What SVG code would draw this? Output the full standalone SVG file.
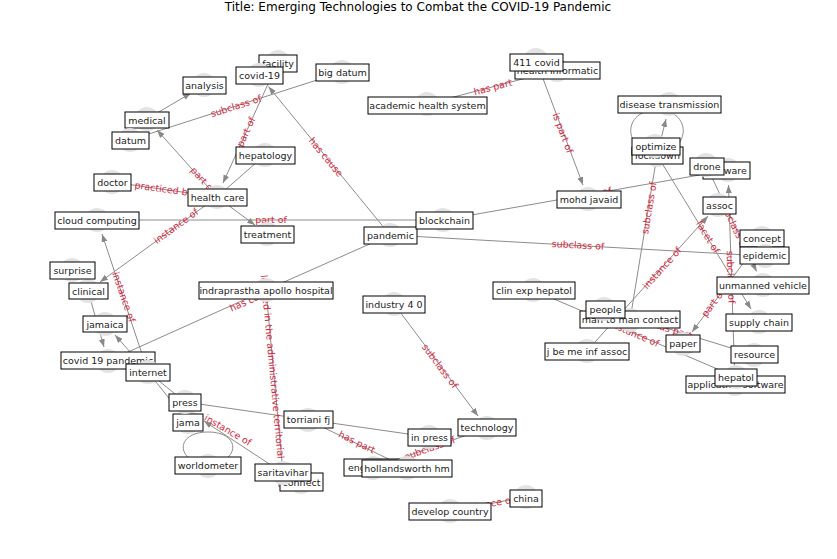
<svg xmlns="http://www.w3.org/2000/svg" width="837" height="559" viewBox="0 0 837 559">
<defs>
<marker id="arr" markerUnits="userSpaceOnUse" markerWidth="9" markerHeight="7" refX="8" refY="3" orient="auto">
<path d="M0,0 L8,3 L0,6 z" fill="#888"/>
</marker>
<style>
.e{stroke:#8c8c8c;stroke-width:1;fill:none}
.a{marker-end:url(#arr)}
.l{font-family:"DejaVu Sans",sans-serif;font-size:9.5px;fill:#d7263d;text-anchor:middle}
.c{fill:#e3e3e3}
.b{fill:#fff;stroke:#000;stroke-width:1}
.t{font-family:"DejaVu Sans",sans-serif;font-size:9.5px;fill:#222;text-anchor:middle}
.title{font-family:"DejaVu Sans",sans-serif;font-size:12px;fill:#000;text-anchor:middle}
</style>
</defs>
<rect width="837" height="559" fill="#fff"/>
<text class="title" x="418" y="11">Title: Emerging Technologies to Combat the COVID-19 Pandemic</text>
<g id="connectors">
<line class="e" x1="130" y1="140" x2="342" y2="72"/>
<line class="e a" x1="147" y1="119" x2="191" y2="93"/>
<line class="e a" x1="217" y1="197" x2="157" y2="130"/>
<line class="e a" x1="278" y1="62" x2="223" y2="183"/>
<line class="e" x1="265" y1="155" x2="217" y2="197"/>
<line class="e" x1="112" y1="182" x2="217" y2="197"/>
<line class="e a" x1="217" y1="197" x2="100" y2="282"/>
<line class="e a" x1="217" y1="197" x2="255" y2="225"/>
<line class="e" x1="97" y1="220" x2="443" y2="220"/>
<line class="e a" x1="148" y1="372" x2="102" y2="234"/>
<line class="e a" x1="88" y1="291" x2="104" y2="347"/>
<line class="e a" x1="148" y1="372" x2="115" y2="335"/>
<line class="e" x1="108" y1="361" x2="266" y2="290"/>
<line class="e" x1="266" y1="290" x2="283" y2="473"/>
<line class="e a" x1="390" y1="235" x2="268.5" y2="86.6"/>
<line class="e" x1="390" y1="235" x2="266" y2="290"/>
<line class="e" x1="390" y1="235" x2="765" y2="256"/>
<line class="e" x1="443" y1="220" x2="728" y2="170"/>
<line class="e" x1="427" y1="104" x2="557" y2="70"/>
<line class="e a" x1="536" y1="60" x2="583" y2="185"/>
<line class="e a" x1="657" y1="155" x2="666" y2="119"/>
<path class="e" d="M657,155 C622,150 622,110 657,110 C692,110 692,150 657,155"/>
<line class="e" x1="630" y1="320" x2="657" y2="155"/>
<line class="e a" x1="657" y1="155" x2="751" y2="309"/>
<line class="e a" x1="587" y1="351" x2="708" y2="216"/>
<line class="e a" x1="706" y1="165" x2="756.6" y2="271.4"/>
<line class="e a" x1="735" y1="384" x2="728.5" y2="185"/>
<line class="e a" x1="762" y1="238" x2="692" y2="332"/>
<line class="e" x1="533" y1="290" x2="736" y2="377"/>
<line class="e" x1="604" y1="309" x2="754" y2="355"/>
<line class="e" x1="148" y1="372" x2="185" y2="402"/>
<line class="e" x1="148" y1="372" x2="188" y2="422"/>
<line class="e" x1="185" y1="402" x2="429" y2="437"/>
<line class="e a" x1="283" y1="473" x2="204" y2="421"/>
<path class="e" d="M208,466 C175,461 175,432 208,432 C241,432 241,461 208,466"/>
<line class="e" x1="308" y1="420" x2="407" y2="468"/>
<line class="e" x1="373" y1="468" x2="487" y2="428"/>
<line class="e a" x1="394" y1="304" x2="478" y2="416"/>
<line class="e" x1="526" y1="497" x2="450" y2="511"/>
<g>
<text class="l" transform="translate(236,106) rotate(-17.8)" dy="3.4">subclass of</text>
<text class="l" transform="translate(203,180) rotate(48)" dy="3.4">part of</text>
<text class="l" transform="translate(246,132) rotate(-65.7)" dy="3.4">part of</text>
<text class="l" transform="translate(164,189) rotate(8)" dy="3.4">practiced by</text>
<text class="l" transform="translate(176,226) rotate(-36)" dy="3.4">instance of</text>
<text class="l" transform="translate(271,220)" dy="3.4">part of</text>
<text class="l" transform="translate(124,297) rotate(71)" dy="3.4">instance of</text>
<text class="l" transform="translate(252,299) rotate(-24)" dy="3.4">has cause</text>
<text class="l" transform="translate(274,382) rotate(84.7)" dy="3.4">located in the administrative territorial entity</text>
<text class="l" transform="translate(326,157) rotate(50.7)" dy="3.4">has cause</text>
<text class="l" transform="translate(578,245) rotate(3.2)" dy="3.4">subclass of</text>
<text class="l" transform="translate(585.5,195) rotate(-10)" dy="3.4">subclass of</text>
<text class="l" transform="translate(493,87) rotate(-14.7)" dy="3.4">has part</text>
<text class="l" transform="translate(563,133) rotate(69.5)" dy="3.4">is part of</text>
<text class="l" transform="translate(657,153)" dy="3.4">instance of</text>
<text class="l" transform="translate(649,208) rotate(-80.7)" dy="3.4">subclass of</text>
<text class="l" transform="translate(708,237) rotate(58.6)" dy="3.4">facet of</text>
<text class="l" transform="translate(662,268) rotate(-48)" dy="3.4">instance of</text>
<text class="l" transform="translate(734,225) rotate(64.6)" dy="3.4">subclass of</text>
<text class="l" transform="translate(731,277) rotate(88)" dy="3.4">subclass of</text>
<text class="l" transform="translate(713,303) rotate(-53)" dy="3.4">part of</text>
<text class="l" transform="translate(634.5,333.5) rotate(23.2)" dy="3.4">instance of</text>
<text class="l" transform="translate(673,330) rotate(17)" dy="3.4">has part</text>
<text class="l" transform="translate(228,430) rotate(30)" dy="3.4">instance of</text>
<text class="l" transform="translate(357,442) rotate(26)" dy="3.4">has part</text>
<text class="l" transform="translate(430,448) rotate(-19.3)" dy="3.4">subclass of</text>
<text class="l" transform="translate(440,366) rotate(53)" dy="3.4">subclass of</text>
<text class="l" transform="translate(488,504) rotate(-10.4)" dy="3.4">instance of</text>
</g>
</g>
<g id="n-facility"><circle class="c" cx="278" cy="62" r="12"/><rect class="b" x="259" y="55" width="38" height="17"/><text class="t" x="278" y="67">facility</text></g>
<g id="n-covid-19"><circle class="c" cx="259" cy="75" r="12"/><rect class="b" x="236" y="67" width="47" height="17"/><text class="t" x="259.5" y="79">covid-19</text></g>
<g id="n-big-datum"><circle class="c" cx="342" cy="72" r="12"/><rect class="b" x="316" y="64" width="53" height="17"/><text class="t" x="342.5" y="76">big datum</text></g>
<g id="n-analysis"><circle class="c" cx="204" cy="85" r="12"/><rect class="b" x="183" y="77" width="43" height="17"/><text class="t" x="204.5" y="89">analysis</text></g>
<g id="n-medical"><circle class="c" cx="147" cy="119" r="12"/><rect class="b" x="125" y="112" width="44" height="16"/><text class="t" x="147" y="123.5">medical</text></g>
<g id="n-datum"><circle class="c" cx="130" cy="140" r="12"/><rect class="b" x="112" y="132" width="37" height="17"/><text class="t" x="130.5" y="144">datum</text></g>
<g id="n-hepatology"><circle class="c" cx="265" cy="155" r="12"/><rect class="b" x="236" y="147" width="59" height="17"/><text class="t" x="265.5" y="159">hepatology</text></g>
<g id="n-doctor"><circle class="c" cx="112" cy="182" r="12"/><rect class="b" x="94" y="174" width="37" height="17"/><text class="t" x="112.5" y="186">doctor</text></g>
<g id="n-health-care"><circle class="c" cx="217" cy="197" r="12"/><rect class="b" x="188" y="189" width="59" height="17"/><text class="t" x="217.5" y="201">health care</text></g>
<g id="n-cloud-computing"><circle class="c" cx="97" cy="220" r="12"/><rect class="b" x="55" y="212" width="84" height="17"/><text class="t" x="97" y="224">cloud computing</text></g>
<g id="n-treatment"><circle class="c" cx="267" cy="234" r="12"/><rect class="b" x="241" y="226" width="53" height="17"/><text class="t" x="267.5" y="238">treatment</text></g>
<g id="n-pandemic"><circle class="c" cx="390" cy="235" r="12"/><rect class="b" x="364" y="227" width="53" height="17"/><text class="t" x="390.5" y="239">pandemic</text></g>
<g id="n-blockchain"><circle class="c" cx="443" cy="220" r="12"/><rect class="b" x="416" y="212" width="57" height="17"/><text class="t" x="444.5" y="224">blockchain</text></g>
<g id="n-academic-health-system"><circle class="c" cx="427" cy="104" r="12"/><rect class="b" x="368" y="97" width="119" height="17"/><text class="t" x="427.5" y="109">academic health system</text></g>
<g id="n-health-informatic"><circle class="c" cx="557" cy="70" r="12"/><rect class="b" x="515" y="62" width="85" height="17"/><text class="t" x="557.5" y="74">health informatic</text></g>
<g id="n-411-covid"><circle class="c" cx="536" cy="60" r="12"/><rect class="b" x="510" y="54" width="53" height="17"/><text class="t" x="536.5" y="66">411 covid</text></g>
<g id="n-disease-transmission"><circle class="c" cx="669" cy="104" r="12"/><rect class="b" x="618" y="96" width="103" height="17"/><text class="t" x="669.5" y="108">disease transmission</text></g>
<g id="n-lockdown"><circle class="c" cx="657" cy="155" r="12"/><rect class="b" x="632" y="147" width="51" height="17"/><text class="t" x="657.5" y="159">lockdown</text></g>
<g id="n-optimize"><circle class="c" cx="655" cy="146" r="12"/><rect class="b" x="632" y="138" width="48" height="17"/><text class="t" x="656" y="150">optimize</text></g>
<g id="n-mohd-javaid"><circle class="c" cx="588" cy="199" r="12"/><rect class="b" x="557" y="191" width="64" height="17"/><text class="t" x="589" y="203">mohd javaid</text></g>
<g id="n-software"><circle class="c" cx="728" cy="170" r="12"/><rect class="b" x="703" y="162" width="47" height="17"/><text class="t" x="726.5" y="174">software</text></g>
<g id="n-drone"><circle class="c" cx="706" cy="165" r="12"/><rect class="b" x="690" y="158" width="34" height="17"/><text class="t" x="707" y="170">drone</text></g>
<g id="n-assoc"><circle class="c" cx="718" cy="205" r="12"/><rect class="b" x="703" y="197" width="33" height="17"/><text class="t" x="719.5" y="209">assoc</text></g>
<g id="n-concept"><circle class="c" cx="762" cy="238" r="12"/><rect class="b" x="740" y="230" width="44" height="17"/><text class="t" x="762" y="242">concept</text></g>
<g id="n-epidemic"><circle class="c" cx="765" cy="256" r="12"/><rect class="b" x="740" y="247" width="49" height="17"/><text class="t" x="764.5" y="259">epidemic</text></g>
<g id="n-unmanned-vehicle"><circle class="c" cx="763" cy="285" r="12"/><rect class="b" x="717" y="277" width="92" height="17"/><text class="t" x="763" y="289">unmanned vehicle</text></g>
<g id="n-supply-chain"><circle class="c" cx="759" cy="322" r="12"/><rect class="b" x="726" y="314" width="66" height="17"/><text class="t" x="759" y="326">supply chain</text></g>
<g id="n-resource"><circle class="c" cx="754" cy="355" r="12"/><rect class="b" x="731" y="346" width="47" height="17"/><text class="t" x="754.5" y="358">resource</text></g>
<g id="n-application-software"><circle class="c" cx="735" cy="384" r="12"/><rect class="b" x="686" y="376" width="99" height="17"/><text class="t" x="735.5" y="388">application software</text></g>
<g id="n-hepatol"><circle class="c" cx="736" cy="377" r="12"/><rect class="b" x="715" y="369" width="42" height="17"/><text class="t" x="736" y="381">hepatol</text></g>
<g id="n-paper"><circle class="c" cx="683" cy="344" r="12"/><rect class="b" x="666" y="335" width="34" height="17"/><text class="t" x="683" y="347">paper</text></g>
<g id="n-man-to-man-contact"><circle class="c" cx="630" cy="320" r="12"/><rect class="b" x="580" y="311" width="100" height="17"/><text class="t" x="630" y="323">man to man contact</text></g>
<g id="n-people"><circle class="c" cx="604" cy="309" r="12"/><rect class="b" x="586" y="301" width="39" height="17"/><text class="t" x="605.5" y="313">people</text></g>
<g id="n-j-be-me-inf-assoc"><circle class="c" cx="587" cy="351" r="12"/><rect class="b" x="545" y="343" width="84" height="17"/><text class="t" x="587" y="355">j be me inf assoc</text></g>
<g id="n-clin-exp-hepatol"><circle class="c" cx="533" cy="290" r="12"/><rect class="b" x="493" y="282" width="82" height="17"/><text class="t" x="534" y="294">clin exp hepatol</text></g>
<g id="n-industry-4-0"><circle class="c" cx="394" cy="304" r="12"/><rect class="b" x="363" y="296" width="62" height="17"/><text class="t" x="394" y="308">industry 4 0</text></g>
<g id="n-technology"><circle class="c" cx="487" cy="428" r="12"/><rect class="b" x="458" y="419" width="58" height="17"/><text class="t" x="487" y="431">technology</text></g>
<g id="n-in-press"><circle class="c" cx="429" cy="437" r="12"/><rect class="b" x="408" y="429" width="43" height="17"/><text class="t" x="429.5" y="441">in press</text></g>
<g id="n-torriani-fj"><circle class="c" cx="308" cy="420" r="12"/><rect class="b" x="284" y="411" width="49" height="17"/><text class="t" x="308.5" y="423">torriani fj</text></g>
<g id="n-eng"><circle class="c" cx="373" cy="468" r="12"/><rect class="b" x="344" y="459" width="58" height="17"/><text class="t" x="348" y="471" style="text-anchor:start">eng</text></g>
<g id="n-hollandsworth-hm"><circle class="c" cx="407" cy="468" r="12"/><rect class="b" x="362" y="460" width="90" height="17"/><text class="t" x="407" y="472">hollandsworth hm</text></g>
<g id="n-connect"><circle class="c" cx="301" cy="482" r="12"/><rect class="b" x="280" y="473" width="43" height="18"/><text class="t" x="301.5" y="485.5">connect</text></g>
<g id="n-saritavihar"><circle class="c" cx="283" cy="473" r="12"/><rect class="b" x="255" y="464" width="56" height="17"/><text class="t" x="283" y="476">saritavihar</text></g>
<g id="n-develop-country"><circle class="c" cx="450" cy="511" r="12"/><rect class="b" x="409" y="503" width="82" height="17"/><text class="t" x="450" y="515">develop country</text></g>
<g id="n-china"><circle class="c" cx="526" cy="497" r="12"/><rect class="b" x="510" y="490" width="32" height="17"/><text class="t" x="526" y="502">china</text></g>
<g id="n-worldometer"><circle class="c" cx="208" cy="466" r="12"/><rect class="b" x="175" y="457" width="66" height="17"/><text class="t" x="208" y="469">worldometer</text></g>
<g id="n-jama"><circle class="c" cx="188" cy="422" r="12"/><rect class="b" x="173" y="414" width="30" height="17"/><text class="t" x="188" y="426">jama</text></g>
<g id="n-press"><circle class="c" cx="185" cy="402" r="12"/><rect class="b" x="169" y="394" width="32" height="17"/><text class="t" x="185" y="406">press</text></g>
<g id="n-covid-19-pandemic"><circle class="c" cx="108" cy="361" r="12"/><rect class="b" x="61" y="352" width="94" height="17"/><text class="t" x="108" y="364">covid 19 pandemic</text></g>
<g id="n-internet"><circle class="c" cx="148" cy="372" r="12"/><rect class="b" x="126" y="364" width="44" height="17"/><text class="t" x="148" y="376">internet</text></g>
<g id="n-jamaica"><circle class="c" cx="105" cy="324" r="12"/><rect class="b" x="83" y="316" width="44" height="16"/><text class="t" x="105" y="327.5">jamaica</text></g>
<g id="n-clinical"><circle class="c" cx="88" cy="291" r="12"/><rect class="b" x="69" y="283" width="39" height="16"/><text class="t" x="88.5" y="294.5">clinical</text></g>
<g id="n-surprise"><circle class="c" cx="72" cy="270" r="12"/><rect class="b" x="50" y="262" width="45" height="17"/><text class="t" x="72.5" y="274">surprise</text></g>
<g id="n-indraprastha-apollo-hospital"><circle class="c" cx="266" cy="290" r="12"/><rect class="b" x="199" y="282" width="134" height="17"/><text class="t" x="266" y="294">indraprastha apollo hospital</text></g>
</svg>
